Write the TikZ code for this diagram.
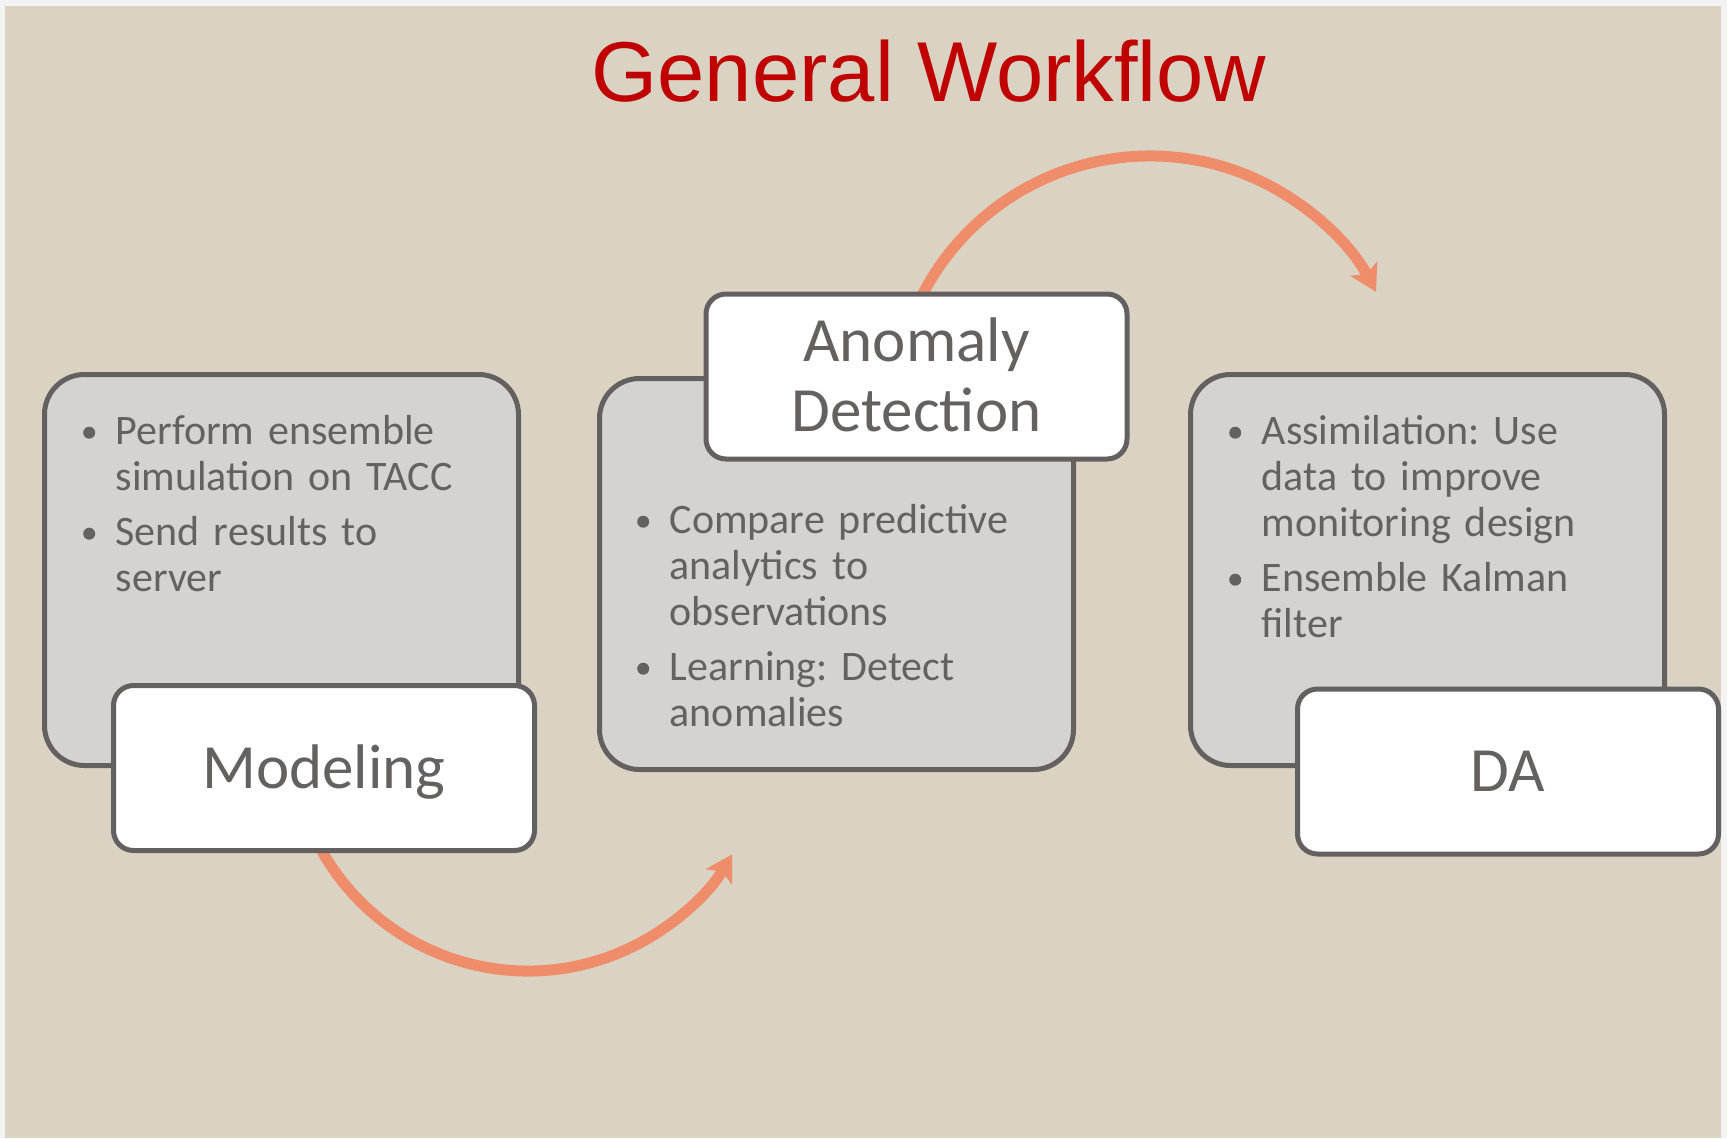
\documentclass[tikz,border=0pt]{standalone}
\usepackage{fontspec}
\setmainfont{Carlito}
\newfontfamily\titlefont{Liberation Sans}
\usetikzlibrary{arrows.meta,calc}
\definecolor{bgouter}{HTML}{F3F3F3}
\definecolor{bgbeige}{HTML}{DAD3C4}
\definecolor{panelgray}{HTML}{D4D3D1}
\definecolor{edgegray}{HTML}{646060}
\definecolor{txtgray}{HTML}{65615F}
\definecolor{arrowor}{HTML}{EF8D6B}
\definecolor{titlered}{HTML}{C00000}
\newcommand\bdot{\tikz[baseline=0pt]\fill[txtgray] (6pt,11.3pt) circle[radius=6pt];}
\newcommand\bitem[1]{\par\noindent\hangindent=32.5pt\hangafter=1\makebox[32.5pt][l]{\bdot}#1\par}
\tikzset{
  panel/.style={draw=edgegray, line width=5pt, fill=panelgray, rounded corners=40pt,
    minimum width=474pt, minimum height=391pt, inner sep=0pt},
  lbl/.style={draw=edgegray, line width=5pt, fill=white, rounded corners=20pt,
    minimum width=421pt, minimum height=165pt, inner sep=0pt,
    font=\fontsize{63}{70}\selectfont, text=txtgray, align=center,
    text height=40pt, text depth=0pt},
  bullets/.style={text width=460pt, inner sep=0pt, align=left, text=txtgray,
    font=\fontsize{42}{46}\selectfont\frenchspacing,
    execute at begin node={\setlength{\parskip}{9pt}}},
  titlestyle/.style={font=\titlefont\fontsize{85}{100}\selectfont, text=titlered, inner sep=0pt},
  flow/.style={draw=arrowor, line width=11pt,
    -{Stealth[length=26pt, width=30pt, inset=6pt]}}
}
\begin{document}
\begin{tikzpicture}[x=1pt, y=-1pt]
\useasboundingbox (0,0) rectangle (1727,1138);
\fill[bgouter] (0,0) rectangle (1727,1138);
\fill[bgbeige] (4.6,5.5) rectangle (1721,1138);

\node[titlestyle, anchor=base] (title) at (928.5,101) {General Workflow};

\node[panel] (p1) at (281.5,570) {};
\node[panel] (p2) at (836.5,574) {};
\node[panel] (p3) at (1427.5,570) {};

\node[bullets, anchor=base west] (t1) at (83,389)
  {\bitem{Perform ensemble\newline simulation on TACC}\bitem{Send results to\newline server}};
\node[bullets, anchor=base west] (t2) at (637,478)
  {\bitem{Compare predictive\newline analytics to\newline observations}\bitem{Learning: Detect\newline anomalies}};
\node[bullets, anchor=base west] (t3) at (1229,389)
  {\bitem{Assimilation: Use\newline data to improve\newline monitoring design}\bitem{Ensemble Kalman\newline filter}};

\coordinate (c1) at (528,734);
\coordinate (c2) at (1150,412);
\coordinate (a1s) at ($(c1)+(153:237)$);
\coordinate (a2s) at ($(c2)+(206:256)$);
\draw[flow] (a1s) arc[start angle=153, end angle=30.5, radius=237];
\draw[flow] (a2s) arc[start angle=206, end angle=332, radius=256];

\node[lbl] (m) at (324,768) {Modeling};
\node[lbl, text height=110pt] (ad) at (916.5,376.5) {Anomaly\\Detection};
\node[lbl] (da) at (1508,771.5) {DA};
\end{tikzpicture}
\end{document}
